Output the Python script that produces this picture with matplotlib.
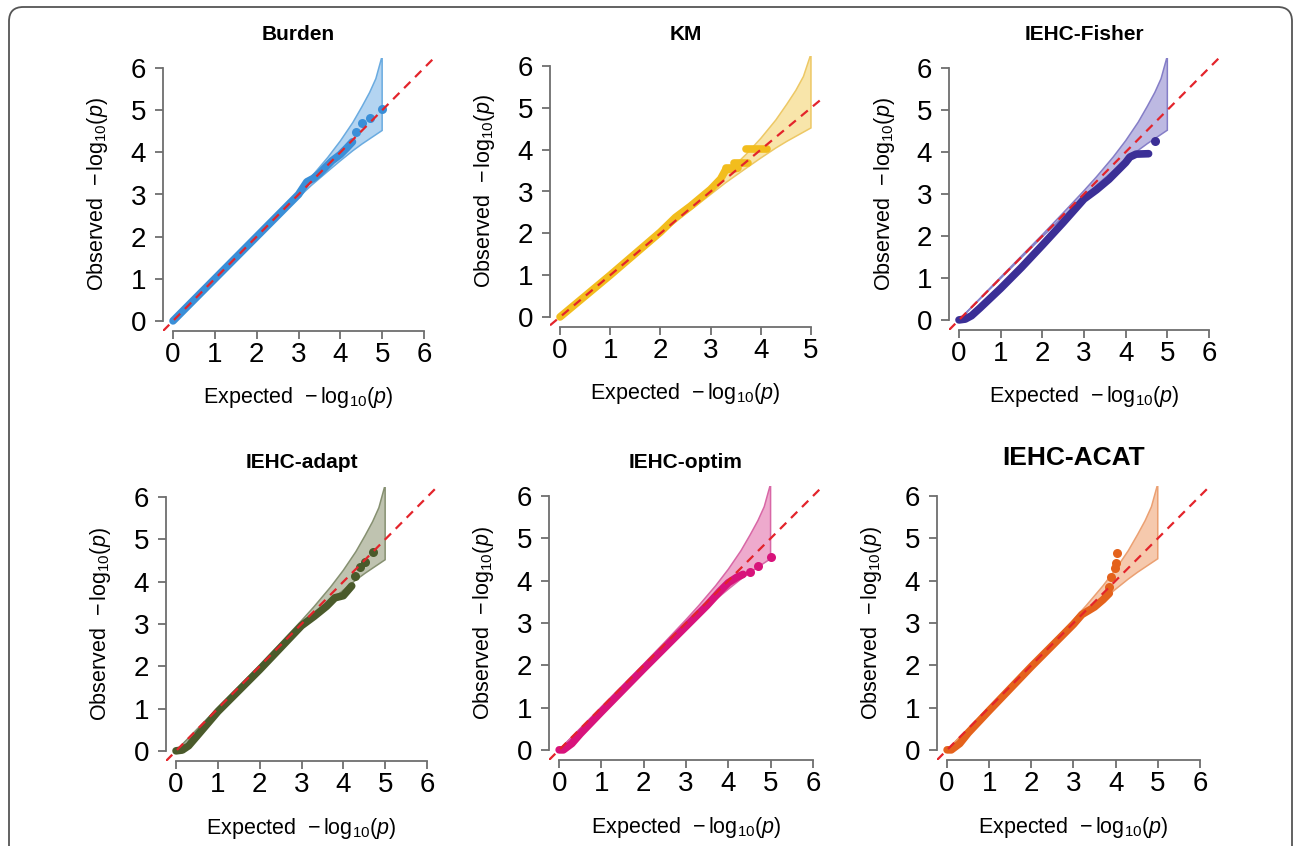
import numpy as np
import matplotlib
matplotlib.use("Agg")
import matplotlib.pyplot as plt
from matplotlib.patches import FancyBboxPatch

plt.rcParams['font.family'] = ['Liberation Sans', 'DejaVu Sans']
plt.rcParams['mathtext.fontset'] = 'custom'
plt.rcParams['mathtext.rm'] = 'Liberation Sans'
plt.rcParams['mathtext.it'] = 'Liberation Sans:italic'

# panel titles and colours
titles = ["Burden", "KM", "IEHC-Fisher", "IEHC-adapt", "IEHC-optim", "IEHC-ACAT"]
point_colors = ["#3a8fd8", "#f2bd1d", "#3b2f96", "#4a5a2b", "#d8137b", "#e4621c"]
band_colors = ["#b3d4f1", "#f8e5aa", "#bdb9e2", "#bfc3b0", "#eeaacd", "#f6c9ad"]
edge_colors = ["#6aabe0", "#edc865", "#857ec7", "#869071", "#d867a6", "#eba072"]

# 90% band of the expected order statistics
band_x = [0.0, 1.0, 2.0, 2.5, 3.0, 3.3, 3.7, 4.0, 4.3, 4.52, 4.7, 4.85, 5.0]
band_upper = [0.0, 1.02, 2.03, 2.55, 3.08, 3.41, 3.88, 4.27, 4.71, 5.09, 5.42, 5.75, 6.29]
band_lower = [0.0, 0.99, 1.98, 2.46, 2.93, 3.21, 3.55, 3.80, 4.04, 4.20, 4.32, 4.42, 4.52]

# observed vs expected -log10(p), dense part and isolated top points
burden_x = [0.0, 1.0, 2.0, 2.5, 3.0, 3.2, 3.35, 3.5, 3.8, 4.0, 4.15, 4.29]
burden_y = [0.0, 1.0, 2.0, 2.5, 3.0, 3.3, 3.38, 3.5, 3.8, 3.95, 4.1, 4.25]
burden_top_x = [4.38, 4.52, 4.70, 5.0]
burden_top_y = [4.49, 4.69, 4.81, 5.02]

km_x = [0.0, 1.0, 2.0, 2.3, 2.6, 3.0, 3.2, 3.3, 3.52]
km_y = [0.0, 1.0, 2.03, 2.38, 2.65, 3.05, 3.3, 3.52, 3.55]
km_step_x = [[3.3, 3.54], [3.47, 3.74], [3.70, 4.12]]
km_step_y = [[3.55, 3.55], [3.69, 3.69], [4.02, 4.02]]

fisher_x = [0.0, 0.15, 0.3, 0.5, 1.0, 1.5, 2.0, 2.5, 3.0, 3.3, 3.6, 3.8, 4.0, 4.1, 4.25, 4.55]
fisher_y = [0.0, 0.02, 0.1, 0.28, 0.75, 1.25, 1.78, 2.32, 2.88, 3.1, 3.35, 3.55, 3.75, 3.88, 3.95, 3.96]
fisher_top_x = [4.71]
fisher_top_y = [4.27]

adapt_x = [0.0, 0.15, 0.3, 0.5, 1.0, 2.0, 2.5, 3.0, 3.3, 3.6, 3.8, 4.0, 4.2]
adapt_y = [0.0, 0.02, 0.12, 0.35, 0.93, 1.92, 2.44, 2.96, 3.18, 3.42, 3.62, 3.67, 3.9]
adapt_top_x = [4.28, 4.41, 4.53, 4.70]
adapt_top_y = [4.14, 4.34, 4.46, 4.70]

optim_x = [0.0, 0.1, 0.3, 0.5, 1.0, 2.0, 2.5, 3.0, 3.5, 3.8, 4.0, 4.2, 4.35]
optim_y = [0.0, 0.0, 0.15, 0.38, 0.9, 1.92, 2.42, 2.92, 3.42, 3.75, 3.95, 4.08, 4.15]
optim_top_x = [4.51, 4.70, 5.0]
optim_top_y = [4.21, 4.34, 4.56]

acat_x = [0.0, 0.1, 0.3, 0.5, 1.0, 2.0, 3.0, 3.2, 3.5, 3.7, 3.85]
acat_y = [0.0, 0.0, 0.15, 0.4, 0.93, 1.97, 2.97, 3.2, 3.38, 3.55, 3.7]
acat_top_x = [3.85, 3.90, 3.98, 4.02, 4.04]
acat_top_y = [3.86, 4.09, 4.31, 4.41, 4.65]

curves = [(burden_x, burden_y), (km_x, km_y), (fisher_x, fisher_y),
          (adapt_x, adapt_y), (optim_x, optim_y), (acat_x, acat_y)]
tops = [(burden_top_x, burden_top_y), ([], []), (fisher_top_x, fisher_top_y),
        (adapt_top_x, adapt_top_y), (optim_top_x, optim_top_y), (acat_top_x, acat_top_y)]
x_max = [6, 5, 6, 6, 6, 6]

# axes boxes in pixels: left, right, top, bottom
W, H = 1295, 846
boxes = [(163, 434, 58, 331), (550, 821, 56, 327), (949, 1219, 58, 330),
         (166, 437, 487, 761), (549, 823, 486, 760), (937, 1210, 486, 760)]

fig = plt.figure(figsize=(W / 100, H / 100), dpi=100)
fig.patches.append(FancyBboxPatch((9 / W, -0.05), 1283 / W, 1.05 - 7 / H,
                                  boxstyle="round,pad=0,rounding_size=0.011",
                                  mutation_aspect=W / H,
                                  transform=fig.transFigure, facecolor="white",
                                  edgecolor="#555555", linewidth=1.3, zorder=-10))

spine_col = "#6e6e6e"
for i in range(6):
    l, r, t, b = boxes[i]
    ax = fig.add_axes([l / W, 1 - b / H, (r - l) / W, (b - t) / H])
    ax.patch.set_alpha(0)
    xm = x_max[i]
    ax.set_xlim(-0.04 * xm, xm * 1.04)
    ax.set_ylim(-0.24, 6.24)

    bx = np.array(band_x)
    ax.fill(np.r_[bx, bx[::-1]], np.r_[band_upper, band_lower[::-1]],
            facecolor=band_colors[i], edgecolor=edge_colors[i], linewidth=1.1, zorder=1)

    cx, cy = curves[i]
    ax.plot(cx, cy, '-', color=point_colors[i], lw=5.5, solid_capstyle='round',
            solid_joinstyle='round', zorder=2)
    if i == 1:
        for sx, sy in zip(km_step_x, km_step_y):
            ax.plot(sx, sy, '-', color=point_colors[i], lw=5.5, solid_capstyle='round', zorder=2)
    tx, ty = tops[i]
    ax.plot(tx, ty, 'o', color=point_colors[i], ms=6.5, mec='none', zorder=2)

    ax.axline((0, 0), slope=1, color="#e3242b", lw=1.6, ls=(0, (4, 3)), zorder=3)

    for s in ['top', 'right']:
        ax.spines[s].set_visible(False)
    ax.spines['left'].set_bounds(0, 6)
    ax.spines['bottom'].set_bounds(0, xm)
    for s in ['left', 'bottom']:
        ax.spines[s].set_color(spine_col)
        ax.spines[s].set_linewidth(1.3)
    ax.set_xticks(range(0, xm + 1))
    ax.set_yticks(range(0, 7))
    ax.tick_params(axis='both', direction='out', length=6, width=1.3, color=spine_col,
                   labelsize=20, labelcolor='black')
    ax.tick_params(axis='x', pad=2)
    ax.tick_params(axis='y', pad=6)

    ax.set_xlabel(r"Expected  $-\,\mathrm{log}_{10}(\mathit{p})$", fontsize=15.5)
    ax.set_ylabel(r"Observed  $-\,\mathrm{log}_{10}(\mathit{p})$", fontsize=15.5)
    ax.xaxis.set_label_coords(0.5, -0.245)
    ax.yaxis.set_label_coords(-0.24, 0.5)
    ax.xaxis.label.set_va('center')
    ax.yaxis.label.set_va('center')

    fs = 19 if i == 5 else 15
    ty_px = 458 if i == 5 else (34 if i < 3 else 462)
    fig.text((l + r) / 2 / W, 1 - ty_px / H, titles[i], fontsize=fs, fontweight='bold',
             ha='center', va='center')

fig.savefig("out.png", dpi=100)
